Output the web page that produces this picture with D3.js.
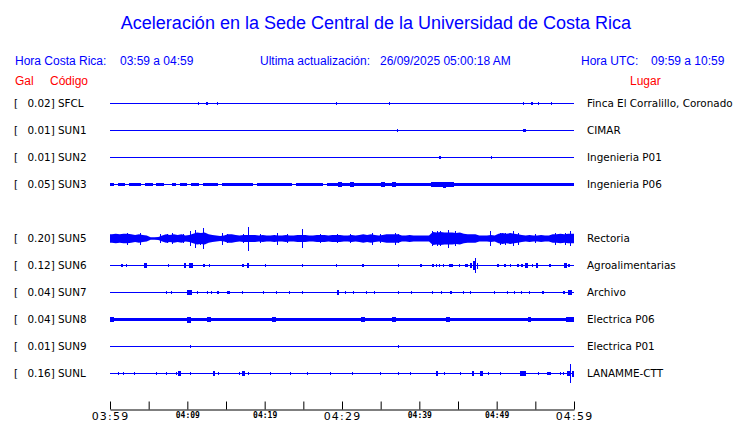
<!DOCTYPE html>
<html>
<head>
<meta charset="utf-8">
<script src="https://cdn.jsdelivr.net/npm/d3@7"></script>
<style>
  body { margin: 0; background: #fff; }
  svg { display: block; }
</style>
</head>
<body>
<div id="chart"></div>
<script>
"use strict";
// textos de cabecera
const title = "Aceleración en la Sede Central de la Universidad de Costa Rica";
const horaLocal = "03:59 a 04:59";
const horaUTC = "09:59 a 10:59";
const actualizacion = "26/09/2025 05:00:18 AM";

// estaciones (el hueco vacío es la fila sin datos)
const slots = ["SFCL", "SUN1", "SUN2", "SUN3", "", "SUN5", "SUN6", "SUN7", "SUN8", "SUN9", "SUNL"];
const codes = ["SFCL", "SUN1", "SUN2", "SUN3", "SUN5", "SUN6", "SUN7", "SUN8", "SUN9", "SUNL"];
const peakGal = [0.02, 0.01, 0.01, 0.05, 0.20, 0.12, 0.04, 0.04, 0.01, 0.16];
const places = ["Finca El Corralillo, Coronado", "CIMAR", "Ingenieria P01", "Ingenieria P06",
  "Rectoria", "Agroalimentarias", "Archivo", "Electrica P06", "Electrica P01", "LANAMME-CTT"];

// eje de tiempo (minutos desde 03:59)
const tickMinutes = [0, 5, 10, 15, 20, 25, 30, 35, 40, 45, 50, 55, 60];
const tickLabels = ["03:59", "", "04:09", "", "04:19", "", "04:29", "", "04:39", "", "04:49", "", "04:59"];
const bigLabels = ["03:59", "04:29", "04:59"];

// envolventes (Gal) en ventanas de medio minuto
const sun5Env = [
  0.07, 0.08, 0.07, 0.08, 0.08, 0.07, 0.06, 0.07, 0.06, 0.05,
  0.02, 0.02, 0.025, 0.05, 0.07, 0.06, 0.07, 0.06, 0.07, 0.05,
  0.06, 0.08, 0.10, 0.09, 0.10, 0.07, 0.06, 0.05, 0.04, 0.05,
  0.07, 0.07, 0.06, 0.05, 0.06, 0.06, 0.06, 0.06, 0.05, 0.06,
  0.05, 0.05, 0.06, 0.05, 0.05, 0.06, 0.05, 0.05, 0.06, 0.06,
  0.06, 0.05, 0.05, 0.06, 0.06, 0.06, 0.05, 0.06, 0.06, 0.06,
  0.05, 0.05, 0.06, 0.05, 0.06, 0.07, 0.06, 0.07, 0.06, 0.05,
  0.06, 0.07, 0.07, 0.07, 0.07, 0.05, 0.05, 0.06, 0.05, 0.05,
  0.05, 0.05, 0.05, 0.11, 0.10, 0.11, 0.10, 0.10, 0.10, 0.09,
  0.10, 0.08, 0.07, 0.07, 0.07, 0.05, 0.05, 0.05, 0.06, 0.05,
  0.08, 0.09, 0.08, 0.09, 0.08, 0.07, 0.06, 0.05, 0.06, 0.05,
  0.05, 0.06, 0.05, 0.05, 0.07, 0.07, 0.08, 0.07, 0.08, 0.08
];
const sun3Env = [
  0.02, 0.01, 0.025, 0.025, 0.01, 0.02, 0.025, 0.025, 0.01, 0.025,
  0.025, 0.01, 0.02, 0.025, 0.01, 0.01, 0.02, 0.01, 0.025, 0.02,
  0.01, 0.02, 0.025, 0.01, 0.02, 0.025, 0.025, 0.02, 0.01, 0.025,
  0.025, 0.03, 0.025, 0.025, 0.02, 0.025, 0.025, 0.01, 0.025, 0.025,
  0.025, 0.025, 0.025, 0.02, 0.025, 0.025, 0.025, 0.01, 0.025, 0.02,
  0.025, 0.025, 0.025, 0.02, 0.025, 0.01, 0.025, 0.025, 0.025, 0.035,
  0.025, 0.025, 0.035, 0.025, 0.025, 0.025, 0.025, 0.02, 0.025, 0.025,
  0.035, 0.025, 0.025, 0.045, 0.025, 0.025, 0.025, 0.02, 0.025, 0.025,
  0.025, 0.025, 0.03, 0.04, 0.035, 0.04, 0.05, 0.035, 0.04, 0.03,
  0.025, 0.025, 0.025, 0.025, 0.02, 0.025, 0.025, 0.025, 0.025, 0.025,
  0.025, 0.025, 0.03, 0.025, 0.025, 0.025, 0.025, 0.025, 0.025, 0.025,
  0.025, 0.025, 0.025, 0.03, 0.025, 0.025, 0.025, 0.025, 0.03, 0.025
];
const sun8Env = [
  0.035, 0.03, 0.03, 0.03, 0.03, 0.03, 0.03, 0.03, 0.03, 0.02,
  0.03, 0.03, 0.03, 0.03, 0.03, 0.03, 0.03, 0.03, 0.02, 0.03,
  0.05, 0.03, 0.03, 0.03, 0.03, 0.04, 0.03, 0.03, 0.03, 0.03,
  0.03, 0.03, 0.03, 0.03, 0.025, 0.03, 0.03, 0.03, 0.03, 0.03,
  0.03, 0.03, 0.035, 0.03, 0.03, 0.03, 0.03, 0.03, 0.03, 0.03,
  0.03, 0.03, 0.03, 0.025, 0.03, 0.03, 0.03, 0.03, 0.03, 0.03,
  0.03, 0.03, 0.03, 0.03, 0.03, 0.035, 0.03, 0.03, 0.03, 0.03,
  0.03, 0.03, 0.03, 0.04, 0.03, 0.03, 0.03, 0.03, 0.03, 0.03,
  0.03, 0.03, 0.03, 0.03, 0.03, 0.03, 0.03, 0.035, 0.03, 0.03,
  0.03, 0.03, 0.03, 0.03, 0.03, 0.03, 0.03, 0.03, 0.03, 0.03,
  0.03, 0.03, 0.03, 0.03, 0.03, 0.03, 0.03, 0.03, 0.035, 0.03,
  0.03, 0.03, 0.03, 0.03, 0.03, 0.03, 0.03, 0.03, 0.035, 0.04
];

// eventos sueltos: [minuto, duración (min), Gal]
const sfclEvents = [[11.34, 0, 0.02], [12.37, 0.26, 0.02], [13.8, 0, 0.02], [29.22, 0, 0.015], [36.11, 0, 0.015],
  [53.36, 0, 0.02], [54.44, 0.26, 0.02], [55.38, 0, 0.02], [57.03, 0, 0.02]];
const sun1Events = [[37.11, 0, 0.01], [53.4, 0.35, 0.01]];
const sun2Events = [[42.6, 0.2, 0.01], [49.3, 0, 0.01]];
const sun5Events = [[0.65, 0, 0.075], [2.2, 0, 0.1], [3.88, 0, 0.1], [6.47, 0, 0.07], [7.37, 0, 0.083],
  [8.02, 0, 0.09], [9.44, 0, 0.083], [10.34, 0, 0.117], [10.99, 0, 0.15], [11.64, 0, 0.1],
  [12.03, 0, 0.18], [14.48, 0, 0.1], [15.13, 0, 0.083], [17.2, 0, 0.083], [17.84, 0.13, 0.2],
  [19.4, 0, 0.083], [21.6, 0, 0.1], [22.9, 0, 0.083], [24.83, 0, 0.16], [27.16, 0, 0.083],
  [29.35, 0, 0.083], [31.03, 0, 0.07], [33.88, 0, 0.1], [34.91, 0, 0.083], [36.85, 0, 0.1],
  [37.24, 0, 0.083], [41.64, 0, 0.133], [42.28, 0, 0.133], [42.67, 0, 0.13], [43.71, 0, 0.15],
  [44.61, 0, 0.117], [49.14, 0, 0.117], [50.43, 0, 0.1], [51.08, 0, 0.1], [52.11, 0, 0.117],
  [52.76, 0, 0.1], [54.96, 0, 0.083], [57.54, 0, 0.1], [58.84, 0, 0.1], [59.48, 0, 0.117]];
const sun6Events = [[1.38, 0.26, 0.03], [2.03, 0, 0.02], [4.4, 0.39, 0.035], [7.54, 0, 0.025], [9.61, 0.2, 0.035],
  [10.22, 0.5, 0.04], [11.99, 0.26, 0.03], [12.8, 0, 0.025], [17.03, 0.26, 0.03], [17.68, 0.26, 0.035],
  [20.04, 0, 0.02], [24.83, 0, 0.025], [29.22, 0, 0.02], [32.59, 0.2, 0.025], [37.24, 0, 0.025],
  [40.09, 0.26, 0.03], [41.6, 0.26, 0.03], [42.12, 0.13, 0.025], [42.58, 0.13, 0.025], [43.1, 0.13, 0.025],
  [43.79, 0.5, 0.03], [45.13, 0, 0.025], [45.96, 0.4, 0.03], [46.55, 0.3, 0.04], [46.94, 0.2, 0.08],
  [47.2, 0.1, 0.12], [47.45, 0.15, 0.05], [50.08, 0.26, 0.03], [50.95, 0.26, 0.03], [51.72, 0.13, 0.025],
  [52.59, 0.26, 0.03], [53.15, 0.26, 0.03], [53.66, 0.4, 0.035], [54.53, 0.13, 0.025], [55.05, 0.26, 0.035],
  [56.77, 0.2, 0.03], [58.71, 0.4, 0.035], [59.22, 0.2, 0.025]];
const sun7Events = [[7.2, 0, 0.015], [7.89, 0, 0.025], [10.0, 0.7, 0.04], [11.21, 0, 0.02], [12.5, 0, 0.02],
  [13.02, 0, 0.02], [13.8, 0.26, 0.03], [15.09, 0.26, 0.03], [15.35, 0, 0.025], [17.03, 0, 0.015],
  [19.8, 0, 0.02], [21.5, 0, 0.02], [23.2, 0.13, 0.025], [24.8, 0, 0.02], [29.4, 0.3, 0.035],
  [30.4, 0, 0.02], [31.4, 0.13, 0.025], [33.1, 0, 0.02], [34.1, 0.13, 0.025], [37.2, 0.13, 0.03],
  [38.9, 0, 0.02], [41.7, 0.13, 0.025], [42.8, 0, 0.02], [44.0, 0.2, 0.03], [45.7, 0, 0.02],
  [46.6, 0.13, 0.025], [49.6, 0, 0.02], [51.3, 0.13, 0.025], [52.2, 0, 0.02], [53.2, 0.13, 0.025],
  [54.2, 0, 0.02], [55.8, 0.2, 0.03], [58.6, 0.2, 0.03], [59.2, 0.5, 0.035]];
const sun9Events = [[10.34, 0, 0.01], [37.24, 0, 0.01]];
const sunlEvents = [[1.0, 0, 0.025], [1.72, 0, 0.02], [3.1, 0.1, 0.03], [5.91, 0, 0.02], [7.2, 0, 0.02],
  [8.5, 0, 0.025], [8.73, 0.4, 0.035], [10.34, 0, 0.025], [13.28, 0.26, 0.035], [14.0, 0, 0.02],
  [16.68, 0.13, 0.03], [17.07, 0.4, 0.035], [17.88, 0, 0.025], [20.69, 0, 0.02], [23.28, 0, 0.03],
  [25.47, 0, 0.02], [28.45, 0, 0.03], [31.29, 0, 0.02], [34.91, 0, 0.02], [37.24, 0, 0.025],
  [38.79, 0, 0.03], [42.15, 0.3, 0.035], [43.19, 0, 0.025], [45.26, 0, 0.02], [46.81, 0.3, 0.035],
  [47.84, 0.4, 0.035], [48.88, 0, 0.025], [50.43, 0, 0.02], [53.02, 0.78, 0.035], [55.34, 0, 0.02],
  [56.47, 0.5, 0.03], [58.19, 0, 0.02], [58.54, 0, 0.02], [59.05, 0.4, 0.04], [59.52, 0.1, 0.16],
  [59.74, 0.2, 0.05]];

const envelopes = { SUN3: sun3Env, SUN5: sun5Env, SUN8: sun8Env };
const events = { SFCL: sfclEvents, SUN1: sun1Events, SUN2: sun2Events, SUN5: sun5Events, SUN6: sun6Events,
  SUN7: sun7Events, SUN9: sun9Events, SUNL: sunlEvents };
const binMinutes = 0.5;

const width = 740, height = 423;
const blue = "#0000ff", red = "#ff0000";
const headFont = "'Liberation Sans', Arial, sans-serif";
const labelFont = "'DejaVu Sans', sans-serif";

const svg = d3.select("#chart").append("svg")
  .attr("width", width)
  .attr("height", height)
  .attr("viewBox", `0 0 ${width} ${height}`);

const x = d3.scaleLinear().domain([0, 60]).range([110, 574]);
const row = d3.scalePoint().domain(slots).range([103, 373]);
const amp = d3.scaleLinear().domain([0, 0.2]).range([0, 12]);

// cabecera
svg.append("text")
  .attr("x", 376).attr("y", 29)
  .attr("text-anchor", "middle")
  .attr("font-family", headFont).attr("font-size", 18)
  .attr("fill", blue)
  .text(title);

const head = [
  [15, "Hora Costa Rica:"], [120, horaLocal],
  [260, "Ultima actualización:"], [380, actualizacion],
  [581, "Hora UTC:"], [651, horaUTC]
];
svg.append("g").selectAll("text").data(head).join("text")
  .attr("x", d => d[0]).attr("y", 65)
  .attr("font-family", headFont).attr("font-size", 12)
  .attr("fill", blue)
  .text(d => d[1]);

svg.append("g").selectAll("text").data([[15, "Gal"], [50, "Código"], [630, "Lugar"]]).join("text")
  .attr("x", d => d[0]).attr("y", 85)
  .attr("font-family", headFont).attr("font-size", 12)
  .attr("fill", red)
  .text(d => d[1]);

// filas de estaciones
const rows = svg.append("g").selectAll("g").data(codes).join("g")
  .attr("transform", d => `translate(0,${row(d)})`);

rows.append("text")
  .attr("x", 14).attr("y", 4)
  .attr("font-family", labelFont).attr("font-size", 10.4)
  .text("[");
rows.append("text")
  .attr("x", 27.5).attr("y", 4)
  .attr("font-family", labelFont).attr("font-size", 10.4)
  .text((d, i) => `${peakGal[i].toFixed(2)}] ${d}`);
rows.append("text")
  .attr("x", 587).attr("y", 4)
  .attr("font-family", labelFont).attr("font-size", 10.4)
  .text((d, i) => places[i]);

// línea base
rows.append("line")
  .attr("x1", x(0)).attr("x2", x(60))
  .attr("y1", 0.5).attr("y2", 0.5)
  .attr("stroke", blue).attr("stroke-width", 1);

// envolventes densas: Rectoria suavizada, las otras en escalones
const areaFor = code => d3.area()
  .x(d => x(d[0]))
  .y0(d => 0.5 - amp(d[1]))
  .y1(d => 0.5 + amp(d[1]))
  .curve(code === "SUN5" ? d3.curveLinear : d3.curveStepAfter);

rows.filter(d => envelopes[d]).append("path")
  .attr("d", d => {
    const env = envelopes[d];
    if (d === "SUN5") {
      const pts = env.map((v, i) => [(i + 0.5) * binMinutes, v]);
      pts.unshift([0, env[0]]);
      pts.push([60, env[env.length - 1]]);
      return areaFor(d)(pts);
    }
    const pts = env.map((v, i) => [i * binMinutes, v]);
    pts.push([60, env[env.length - 1]]);
    return areaFor(d)(pts);
  })
  .attr("fill", blue)
  .attr("shape-rendering", d => d === "SUN5" ? "auto" : "crispEdges");

// eventos sueltos
rows.filter(d => events[d]).selectAll("rect")
  .data(d => events[d])
  .join("rect")
  .attr("x", d => Math.round(x(d[0])))
  .attr("width", d => Math.max(1, Math.round(x(d[0] + d[1]) - x(d[0]))))
  .attr("y", d => 0.5 - Math.max(1.5, amp(d[2])))
  .attr("height", d => 2 * Math.max(1.5, amp(d[2])))
  .attr("fill", blue)
  .attr("shape-rendering", "crispEdges");

// eje de tiempo
const isBig = d => bigLabels.includes(tickLabels[tickMinutes.indexOf(d)]);
const axis = d3.axisBottom(x)
  .tickValues(tickMinutes)
  .tickFormat((d, i) => tickLabels[i])
  .tickSizeInner(-8)
  .tickSizeOuter(0)
  .tickPadding(0);

const gAxis = svg.append("g")
  .attr("transform", "translate(0,409.5)")
  .call(axis);
gAxis.select(".domain").attr("stroke", "#000");
gAxis.selectAll(".tick line").attr("stroke", "#000");
gAxis.selectAll(".tick text")
  .attr("fill", "#000")
  .attr("dy", null)
  .attr("y", d => isBig(d) ? 10 : 8)
  .attr("font-family", d => isBig(d) ? labelFont : "'DejaVu Sans Mono', monospace")
  .attr("font-weight", d => isBig(d) ? "normal" : "bold")
  .attr("font-size", d => isBig(d) ? 11 : 8)
  .attr("letter-spacing", d => isBig(d) ? 1.2 : 0);
</script>
</body>
</html>
